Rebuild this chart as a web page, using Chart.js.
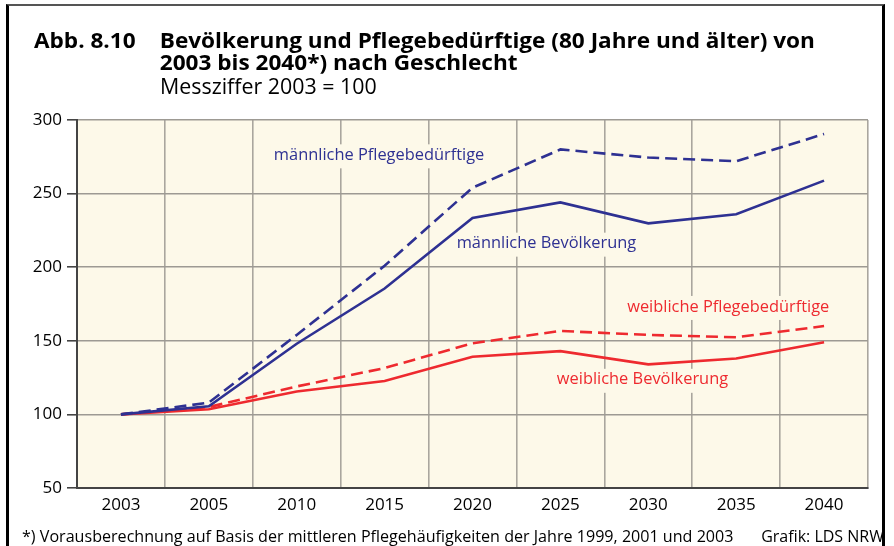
<!DOCTYPE html>
<html lang="de">
<head>
<meta charset="utf-8">
<script src="https://cdn.jsdelivr.net/npm/chart.js@4/dist/chart.umd.min.js"></script>
<style>
  html, body { margin: 0; padding: 0; background: #fff; }
  body { width: 894px; height: 546px; position: relative; overflow: hidden; font-family: "Open Sans", "Noto Sans", sans-serif; color: #000; }
  #frame { position: absolute; left: 6px; top: 4px; width: 879px; height: 560px; border-left: 3px solid #000; border-right: 3px solid #000; border-top: 2px solid #555; box-sizing: border-box; }
  #chart { position: absolute; left: 0; top: 0; }
  .title { position: absolute; left: 34px; font-weight: 700; font-size: 21px; line-height: 22px; white-space: nowrap; transform-origin: 0 0; transform: scaleX(1.075); }
  .title .num { display: inline-block; width: 117px; }
  #sub { position: absolute; left: 160px; top: 74px; font-size: 21.4px; line-height: 24px; white-space: nowrap; }
  #note { position: absolute; left: 22px; top: 525px; font-size: 16.1px; line-height: 22px; white-space: nowrap; }
  #src { position: absolute; right: 10px; top: 525px; font-size: 16px; line-height: 22px; white-space: nowrap; }
</style>
</head>
<body>
<div id="frame"></div>
<canvas id="chart" width="894" height="546"></canvas>
<div class="title" style="top:29px"><span class="num">Abb. 8.10</span>Bevölkerung und Pflegebedürftige (80 Jahre und älter) von</div>
<div class="title" style="top:51px"><span class="num"></span>2003 bis 2040*) nach Geschlecht</div>
<div id="sub">Messziffer 2003 = 100</div>
<div id="note">*) Vorausberechnung auf Basis der mittleren Pflegehäufigkeiten der Jahre 1999, 2001 und 2003</div>
<div id="src">Grafik: LDS NRW</div>
<script>
// Jahre (Kategorien)
const years = ['2003', '2005', '2010', '2015', '2020', '2025', '2030', '2035', '2040'];

// Messziffer 2003 = 100
const maleCare   = [100, 108, 154, 201, 254, 280, 274.5, 272, 290.5];
const malePop    = [100, 105.5, 148, 185.5, 233.5, 244, 229.8, 236, 258.8];
const femaleCare = [100, 105, 119, 131.5, 148.3, 156.7, 154, 152.4, 160];
const femalePop  = [100, 103.5, 115.5, 122.7, 139.2, 143, 134, 138, 149];

// y-Achse
const yTicks = [50, 100, 150, 200, 250, 300];

// Beschriftungen der Linien: Text, Kategorie-Position, Wert
const seriesLabels = ['männliche Pflegebedürftige', 'männliche Bevölkerung', 'weibliche Pflegebedürftige', 'weibliche Bevölkerung'];
const labelAtIndex = [1.74, 3.82, 5.76, 4.96];
const labelAtValue = [276, 216, 173, 123.5];

const BLUE = '#2e3192';
const RED = '#ee2a2f';
const PLOT_BG = '#fdf9e9';
const labelColors = [BLUE, BLUE, RED, RED];

const plotBackground = {
  id: 'plotBackground',
  beforeDraw(chart) {
    const { ctx, chartArea: a } = chart;
    ctx.save();
    ctx.fillStyle = PLOT_BG;
    ctx.fillRect(a.left, a.top, a.right - a.left, a.bottom - a.top);
    ctx.restore();
  }
};

const lineLabels = {
  id: 'lineLabels',
  beforeDatasetsDraw(chart) {
    const { ctx, scales: { x, y } } = chart;
    ctx.save();
    ctx.font = '16.4px "Open Sans"';
    ctx.textBaseline = 'middle';
    ctx.textAlign = 'left';
    seriesLabels.forEach((t, i) => {
      const px = x.getPixelForValue(labelAtIndex[i]);
      const py = y.getPixelForValue(labelAtValue[i]);
      const w = ctx.measureText(t).width;
      ctx.fillStyle = PLOT_BG;
      ctx.fillRect(px - 3, py - 11, w + 6, 24);
      ctx.fillStyle = labelColors[i];
      ctx.fillText(t, px, py);
    });
    ctx.restore();
  }
};

function ds(data, color, dashed) {
  return {
    data, borderColor: color, borderWidth: 2.6, pointRadius: 0,
    borderDash: dashed ? [12, 6] : [], tension: 0, fill: false,
    borderJoinStyle: 'miter'
  };
}

new Chart(document.getElementById('chart'), {
  type: 'line',
  data: {
    labels: years,
    datasets: [
      ds(maleCare, BLUE, true),
      ds(malePop, BLUE, false),
      ds(femaleCare, RED, true),
      ds(femalePop, RED, false)
    ]
  },
  options: {
    responsive: false,
    animation: false,
    events: [],
    layout: { padding: { top: 120, right: 26, bottom: 0, left: 0 } },
    plugins: { legend: { display: false }, tooltip: { enabled: false } },
    scales: {
      x: {
        offset: true,
        afterFit(s) { s.height = 58; },
        grid: { offset: true, color: '#aaa69e', lineWidth: 1.6, drawTicks: false },
        border: { color: '#444', width: 2 },
        ticks: { color: '#000', font: { family: 'Open Sans', size: 17 }, padding: 7, maxRotation: 0 }
      },
      y: {
        min: 50, max: 300,
        afterFit(s) { s.width = 77; },
        afterBuildTicks(s) { s.ticks = yTicks.map(v => ({ value: v })); },
        grid: { color: '#9d9a93', lineWidth: 1.6, tickLength: 10, tickColor: '#444' },
        border: { color: '#444', width: 2 },
        ticks: { color: '#000', font: { family: 'Open Sans', size: 17 }, padding: 5 }
      }
    }
  },
  plugins: [plotBackground, lineLabels]
});
</script>
</body>
</html>
